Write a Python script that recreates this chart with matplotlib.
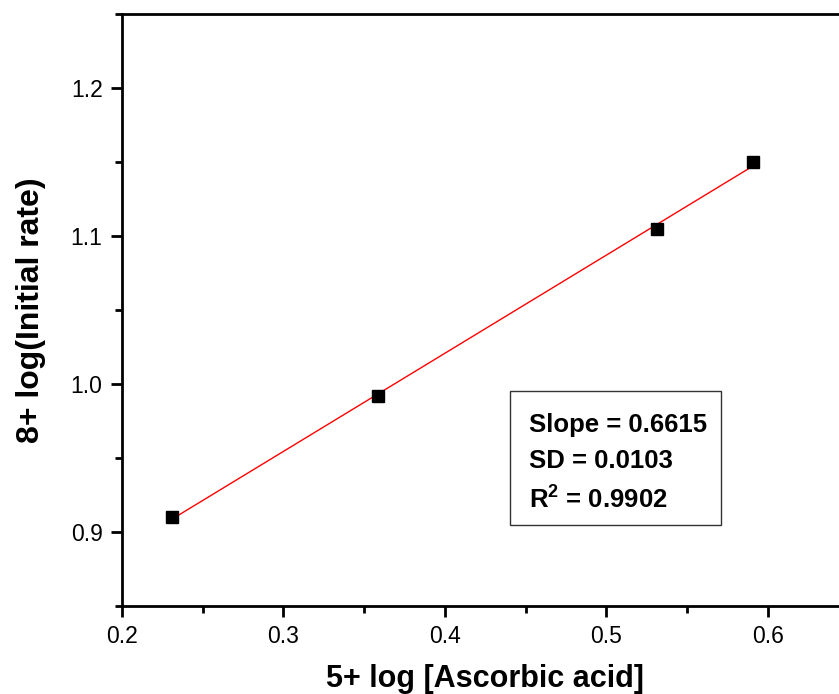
import numpy as np
import matplotlib.pyplot as plt
from matplotlib.patches import Rectangle
from matplotlib.ticker import MultipleLocator

plt.rcParams['font.family'] = ['Liberation Sans', 'DejaVu Sans']
plt.rcParams['mathtext.fontset'] = 'custom'
plt.rcParams['mathtext.rm'] = 'Liberation Sans'
plt.rcParams['mathtext.bf'] = 'Liberation Sans:bold'

# 5 + log[AA] vs 8 + log(initial rate)
log_aa = [0.231, 0.3585, 0.531, 0.5907]
log_rate = [0.910, 0.992, 1.105, 1.150]

fit_lines = ['Slope = 0.6615', 'SD = 0.0103', r'R$^\mathbf{2}$ = 0.9902']

fig = plt.figure(figsize=(8.39, 6.94), dpi=100)
ax = fig.add_axes([0.1454, 0.1268, 0.8662, 0.853])

# linear fit drawn across the data range
k, b = np.polyfit(log_aa, log_rate, 1)
xf = np.array([min(log_aa), max(log_aa)])
ax.plot(xf, k * xf + b, color='red', lw=1)
ax.plot(log_aa, log_rate, 's', color='black', ms=8)

ax.set_xlim(0.2, 0.65)
ax.set_ylim(0.85, 1.25)
ax.xaxis.set_minor_locator(MultipleLocator(0.05))
ax.yaxis.set_minor_locator(MultipleLocator(0.05))
ax.set_xticks([0.2, 0.3, 0.4, 0.5, 0.6])
ax.set_yticks([0.9, 1.0, 1.1, 1.2])
ax.set_xticklabels(['0.2', '0.3', '0.4', '0.5', '0.6'])
ax.set_yticklabels(['0.9', '1.0', '1.1', '1.2'])
ax.tick_params(which='major', direction='out', length=8, width=2, labelsize=16.5, pad=6)
ax.tick_params(which='minor', direction='out', length=5, width=2)
ax.tick_params(which='both', top=False, right=False)
for s in ax.spines.values():
    s.set_linewidth(2)

ax.set_xlabel('5+ log [Ascorbic acid]', fontsize=22, fontweight='bold', labelpad=11)
ax.set_ylabel('8+ log(Initial rate)', fontsize=23, fontweight='bold', labelpad=18)

# fit statistics box
ax.add_patch(Rectangle((0.4402, 0.9047), 0.1307, 0.0906, fill=False, ec='#333333', lw=1))
for txt, yy in zip(fit_lines, [0.9722, 0.9479, 0.9228]):
    ax.text(0.452, yy, txt, fontsize=18.5, fontweight='bold', va='center', ha='left')

fig.savefig('out.png', dpi=100)
